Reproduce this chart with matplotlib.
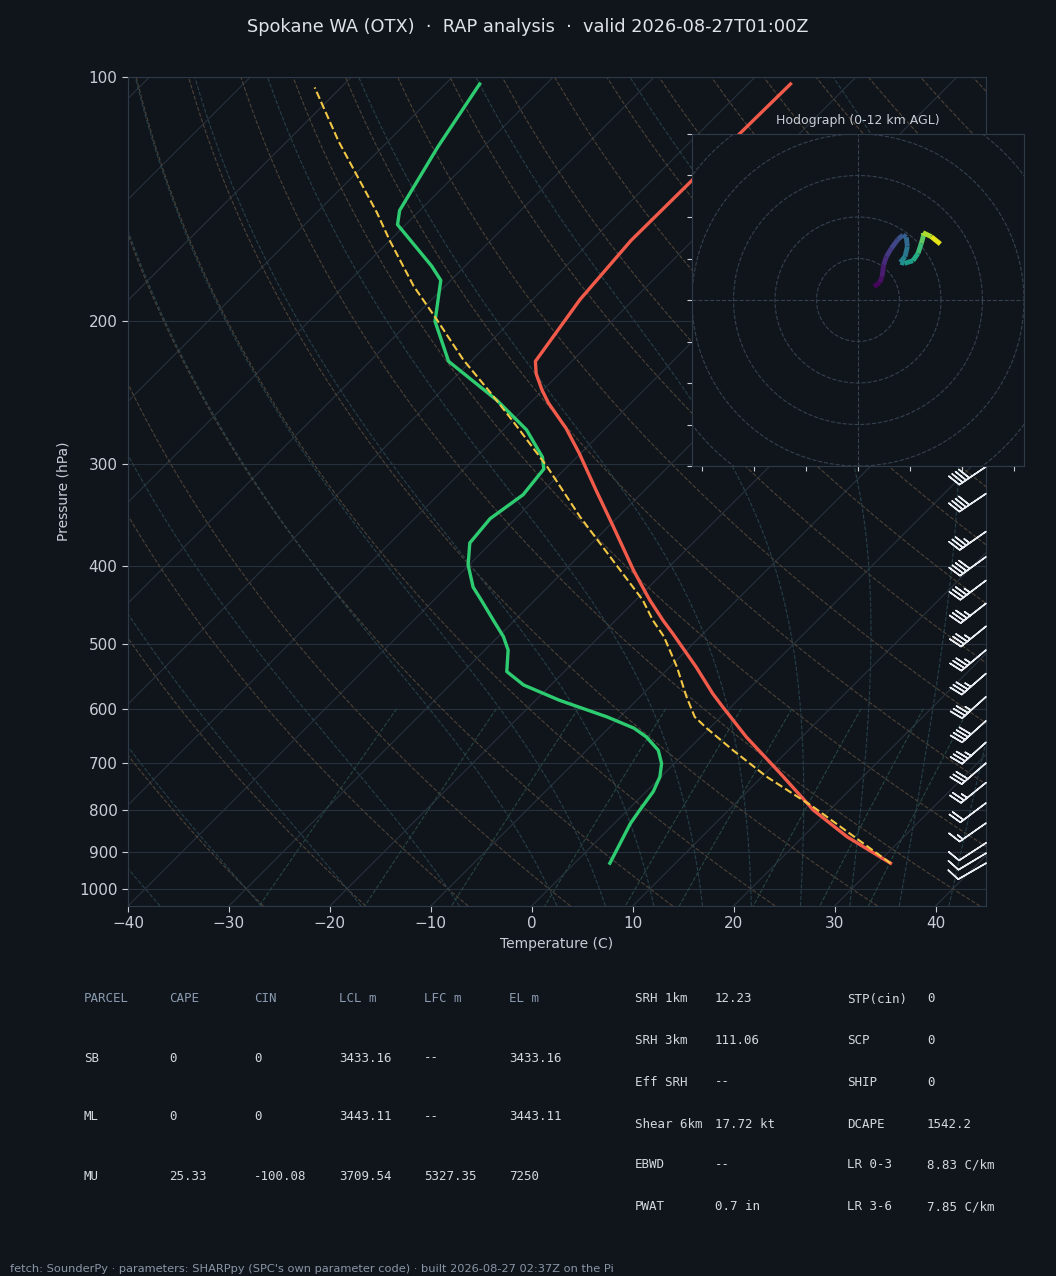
import numpy as np
import matplotlib
matplotlib.use("Agg")
import matplotlib.pyplot as plt
from matplotlib.collections import LineCollection
from matplotlib.ticker import FixedLocator, NullLocator, FixedFormatter

# ---- sounding values (hPa, degC) ----
temp_p = [102, 131, 159, 188, 224, 232, 243, 252, 271, 291, 323, 358, 405, 433,
          441, 467, 485, 533, 575, 597, 650, 721, 800, 863, 930]
temp_c = [-55.8, -56.0, -56.1, -55.3, -53.6, -52.3, -50.1, -48.2, -43.9, -40.1,
          -34.8, -29.5, -23.2, -19.6, -18.6, -15.3, -13.0, -7.4, -3.1, -0.8,
          4.5, 11.5, 18.4, 24.4, 31.3]

dewp_p = [102, 122, 146, 152, 171, 178, 200, 224, 250, 272, 294, 304, 327, 350,
          375, 399, 425, 441, 467, 489, 508, 540, 561, 586, 614, 634, 650, 675,
          701, 728, 759, 800, 831, 930]
dewp_c = [-86.6, -84.5, -82.0, -80.8, -73.3, -71.0, -67.5, -62.2, -53.6, -47.7,
          -43.4, -42.1, -41.6, -42.5, -42.1, -40.1, -37.4, -35.3, -32.1, -29.5,
          -27.7, -25.7, -22.7, -17.6, -11.3, -7.5, -5.4, -2.9, -1.25, -0.1,
          0.7, 1.2, 1.6, 3.5]

parcel_p = [930, 793, 728, 675, 634, 614, 580, 533, 489, 467, 441, 394, 348, 302,
            265, 245, 223, 199, 181, 159, 147, 120, 103]
parcel_c = [31.3, 18.1, 10.5, 4.5, -0.3, -2.6, -5.4, -9.3, -13.6, -16.3, -19.3,
            -26.2, -33.8, -42.0, -50.0, -54.9, -60.9, -67.5, -73.1, -80.0, -84.0,
            -94.9, -102.6]

# wind barbs (hPa, kt, deg)
barb_p = [930, 904, 878, 830, 784, 740, 700, 660, 621, 580, 543, 508, 475, 445,
          417, 390, 363, 326, 302, 280, 255, 230, 205, 180, 160]
barb_spd = [10, 10, 10, 15, 20, 25, 30, 35, 40, 35, 35, 35, 35, 35, 35, 40, 35,
            40, 40, 40, 40, 45, 45, 40, 40]
barb_dir = [240, 239, 237, 235, 233, 231, 229, 228, 228, 228, 229, 230, 231, 232,
            233, 234, 235, 236, 236, 237, 238, 240, 240, 240, 240]

# hodograph (u, v) and height km
hodo_u = [3.86, 5.22, 5.78, 6.18, 6.83, 8.03, 9.64, 10.84, 11.65, 11.89, 11.33,
          10.20, 11.24, 13.25, 14.46, 15.26, 15.82, 15.66, 17.67, 19.84]
hodo_v = [3.21, 4.18, 5.62, 8.43, 10.44, 12.45, 14.62, 15.66, 15.10, 12.85, 10.44,
          9.08, 8.84, 9.48, 11.24, 13.65, 15.66, 16.22, 15.26, 13.49]
hodo_h = [0, 0.3, 0.7, 1.2, 1.7, 2.2, 2.8, 3.3, 3.8, 4.4, 5.0, 5.6, 6.2, 7.0, 7.8,
          8.6, 9.4, 10.0, 11.0, 12.0]

# table text
parcel_hdr = ["PARCEL", "CAPE", "CIN", "LCL m", "LFC m", "EL m"]
parcel_rows = [["SB", "0", "0", "3433.16", "--", "3433.16"],
               ["ML", "0", "0", "3443.11", "--", "3443.11"],
               ["MU", "25.33", "-100.08", "3709.54", "5327.35", "7250"]]
idx_left = [("SRH 1km", "12.23"), ("SRH 3km", "111.06"), ("Eff SRH", "--"),
            ("Shear 6km", "17.72 kt"), ("EBWD", "--"), ("PWAT", "0.7 in")]
idx_right = [("STP(cin)", "0"), ("SCP", "0"), ("SHIP", "0"), ("DCAPE", "1542.2"),
             ("LR 0-3", "8.83 C/km"), ("LR 3-6", "7.85 C/km")]

BG = "#10151c"
FG = "#c9ced6"
SPINE = "#2f3a48"
GRID = "#27313d"

W, H = 1056, 1276
fig = plt.figure(figsize=(W / 100, H / 100), dpi=100, facecolor=BG)

# skew-T axes
l, r, t, b = 128, 986, 77, 906
ax = fig.add_axes([l / W, 1 - b / H, (r - l) / W, (b - t) / H], facecolor=BG)
P_BOT, P_TOP = 1050.0, 100.0
T_MIN, T_MAX = -40.0, 45.0
K = ((b - t) / np.log(P_BOT / P_TOP)) / ((r - l) / (T_MAX - T_MIN))   # 45 deg skew


def skew(tc, p):
    return np.asarray(tc, float) + K * np.log(P_BOT / np.asarray(p, float))


ax.set_yscale("log")
ax.set_xlim(T_MIN, T_MAX)
ax.set_ylim(P_BOT, P_TOP)

pp = np.geomspace(P_BOT, P_TOP, 200)

# isotherms
for iso in range(-160, 50, 10):
    ax.plot(skew([iso, iso], [P_BOT, P_TOP]), [P_BOT, P_TOP], color=GRID, lw=0.8, zorder=1)
for pl in range(100, 1001, 100):
    ax.axhline(pl, color=GRID, lw=0.8, zorder=1)

# dry adiabats
for th in range(-30, 201, 10):
    tt = (th + 273.15) * (pp / 1000.0) ** 0.2857 - 273.15
    ax.plot(skew(tt, pp), pp, color="#4c4236", lw=0.8, ls="--", zorder=1.2)


# moist adiabats
def moist_rate(T, p):
    es = 6.112 * np.exp(17.67 * (T - 273.15) / (T - 29.65))
    rs = 0.622 * es / (p - es)
    return (287.04 * T + 2.501e6 * rs) / (p * (1005.7 + 2.501e6 ** 2 * rs * 0.622 / (287.04 * T * T)))


def moist_line(t0, pgrid):
    out = [t0 + 273.15]
    for i in range(1, len(pgrid)):
        p0, p1 = pgrid[i - 1], pgrid[i]
        T = out[-1]
        dp = p1 - p0
        k1 = moist_rate(T, p0)
        k2 = moist_rate(T + 0.5 * dp * k1, p0 + 0.5 * dp)
        k3 = moist_rate(T + 0.5 * dp * k2, p0 + 0.5 * dp)
        k4 = moist_rate(T + dp * k3, p1)
        out.append(T + dp * (k1 + 2 * k2 + 2 * k3 + k4) / 6)
    return np.array(out) - 273.15


p_up = np.geomspace(1000, P_TOP, 150)
p_dn = np.linspace(1000, P_BOT, 10)
for t0 in [-40, -30, -20, -10, 0, 5, 10, 15, 20, 25, 30, 35, 40]:
    tu = moist_line(t0, p_up)
    td = moist_line(t0, p_dn)
    ax.plot(skew(np.r_[td[::-1], tu[1:]], np.r_[p_dn[::-1], p_up[1:]]),
            np.r_[p_dn[::-1], p_up[1:]], color="#263f48", lw=0.8, ls="--", zorder=1.2)

# mixing ratio lines
pm = np.linspace(600, P_BOT, 50)
for w in [0.4, 1, 2, 4, 7, 10, 16, 24, 32]:
    e = pm * (w / 1000) / (0.622 + w / 1000)
    lg = np.log(e / 6.112)
    tdw = 243.5 * lg / (17.67 - lg)
    ax.plot(skew(tdw, pm), pm, color="#264640", lw=0.8, ls="--", zorder=1.2)

# profiles
ax.plot(skew(temp_c, temp_p), temp_p, color="#f25a4a", lw=2.4, zorder=5)
ax.plot(skew(dewp_c, dewp_p), dewp_p, color="#2ecc71", lw=2.4, zorder=5)
ax.plot(skew(parcel_c, parcel_p), parcel_p, color="#f2c744", lw=1.5, ls="--", zorder=6)

# wind barbs at right edge
bd = np.radians(barb_dir)
bu = -np.array(barb_spd) * np.sin(bd)
bv = -np.array(barb_spd) * np.cos(bd)
ax.barbs(np.ones(len(barb_p)), barb_p, bu, bv, transform=ax.get_yaxis_transform(),
         color="#e8ecf1", length=6.8, linewidth=1.1, clip_on=False, zorder=7)

ax.yaxis.set_major_locator(FixedLocator(list(range(100, 1001, 100))))
ax.yaxis.set_major_formatter(FixedFormatter([str(v) for v in range(100, 1001, 100)]))
ax.yaxis.set_minor_locator(NullLocator())
ax.set_xticks(range(-40, 41, 10))
ax.tick_params(colors=FG, labelsize=11, length=4)
for s in ax.spines.values():
    s.set_color(SPINE)
ax.set_xlabel("Temperature (C)", color=FG, fontsize=10, labelpad=4)
ax.set_ylabel("Pressure (hPa)", color=FG, fontsize=10, labelpad=6)

# hodograph inset
hl, hr, ht, hb = 692, 1024, 134, 466
axh = fig.add_axes([hl / W, 1 - hb / H, (hr - hl) / W, (hb - ht) / H], facecolor=BG, zorder=10)
axh.set_xlim(-40, 40)
axh.set_ylim(-40, 40)
ring_t = np.linspace(0, 2 * np.pi, 300)
for rr in range(10, 61, 10):
    axh.plot(rr * np.cos(ring_t), rr * np.sin(ring_t), color="#36414f", lw=0.8, ls="--")
axh.axhline(0, color="#36414f", lw=0.8, ls="--")
axh.axvline(0, color="#36414f", lw=0.8, ls="--")
pts = np.column_stack([hodo_u, hodo_v])
segs = np.stack([pts[:-1], pts[1:]], axis=1)
hh = np.array(hodo_h)
lc = LineCollection(segs, cmap="viridis", linewidths=3.5, zorder=5)
lc.set_array((hh[:-1] + hh[1:]) / 2)
lc.set_clim(0, 12)
axh.add_collection(lc)
axh.set_yticks(range(-40, 41, 10))
axh.set_xticks([-37.5, -25, -12.5, 0, 12.5, 25, 37.5])
axh.tick_params(colors=FG, labelleft=False, labelbottom=False, length=3.5)
for s in axh.spines.values():
    s.set_color(SPINE)
axh.set_title("Hodograph (0-12 km AGL)", color=FG, fontsize=9, pad=7)

# title
fig.text(0.5, 1 - 27 / H, "Spokane WA (OTX)  \u00b7  RAP analysis  \u00b7  valid 2026-08-27T01:00Z",
         ha="center", va="center", color="#dfe3e8", fontsize=12.8)

# parcel table
mono = "DejaVu Sans Mono"
col_x = [84, 169, 254, 339, 424, 509]
row_y = [999, 1058, 1117, 1176]
for cx, txt in zip(col_x, parcel_hdr):
    fig.text(cx / W, 1 - row_y[0] / H, txt, family=mono, fontsize=9, color="#8b9bb0", va="center")
for ry, row in zip(row_y[1:], parcel_rows):
    for cx, txt in zip(col_x, row):
        fig.text(cx / W, 1 - ry / H, txt, family=mono, fontsize=9, color="#d5d9df", va="center")

# index table
idx_y = [999, 1041, 1082, 1124, 1165, 1207]
for ry, (a, v) in zip(idx_y, idx_left):
    fig.text(635 / W, 1 - ry / H, a, family=mono, fontsize=9, color="#d5d9df", va="center")
    fig.text(715 / W, 1 - ry / H, v, family=mono, fontsize=9, color="#d5d9df", va="center")
for ry, (a, v) in zip(idx_y, idx_right):
    fig.text(847 / W, 1 - ry / H, a, family=mono, fontsize=9, color="#d5d9df", va="center")
    fig.text(927 / W, 1 - ry / H, v, family=mono, fontsize=9, color="#d5d9df", va="center")

fig.text(10 / W, 1 - 1269 / H,
         "fetch: SounderPy \u00b7 parameters: SHARPpy (SPC's own parameter code) \u00b7 built 2026-08-27 02:37Z on the Pi",
         color="#8a96a6", fontsize=8.2, va="center")

fig.savefig("out.png", dpi=100, facecolor=BG)
